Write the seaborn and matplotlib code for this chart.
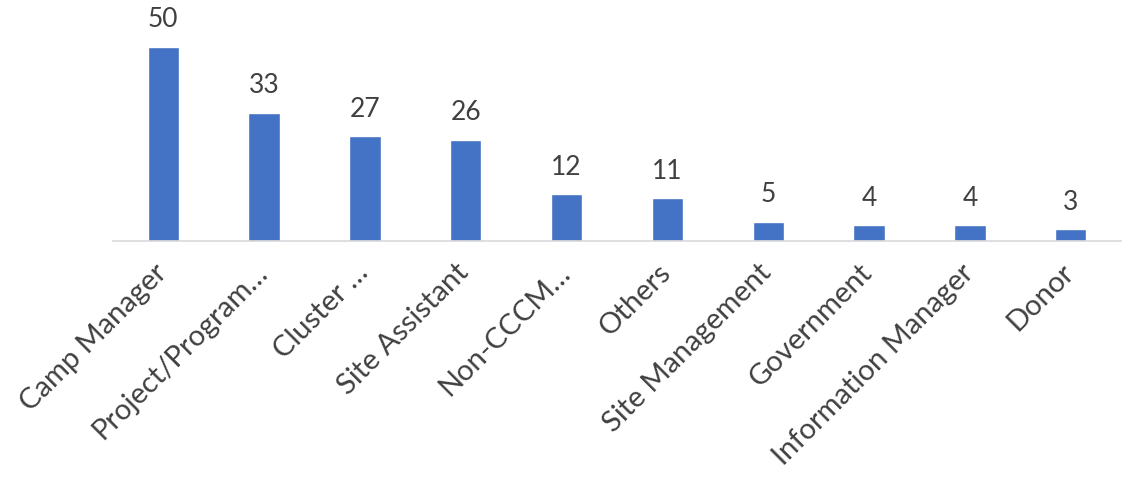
import matplotlib

matplotlib.use("Agg")

import matplotlib.pyplot as plt
import matplotlib.transforms as mtransforms
import pandas as pd
import seaborn as sns

roles = [
    "Camp Manager",
    "Project/Program…",
    "Cluster …",
    "Site Assistant",
    "Non-CCCM…",
    "Others",
    "Site Management",
    "Government",
    "Information Manager",
    "Donor",
]
counts = [50, 33, 27, 26, 12, 11, 5, 4, 4, 3]

sns.set_theme(style="white")
plt.rcParams["font.family"] = ["Lato", "DejaVu Sans"]

df = pd.DataFrame({"role": roles, "count": counts})

fig = plt.figure(figsize=(11.28, 4.82), dpi=100)
ax = fig.add_axes([0.100, 0.5, 0.894, 0.483])
sns.barplot(data=df, x="role", y="count", color="#4472C4", width=0.31,
            saturation=1, ax=ax)

for i, v in enumerate(counts):
    ax.text(i, v + 7, str(v), ha="center", va="center", fontsize=19, color="#404040")

ax.set_ylim(0, 60)
ax.set_xlim(-0.5, len(roles) - 0.5)
ax.set_yticks([])
ax.set_xlabel("")
ax.set_ylabel("")
for s in ["top", "right", "left"]:
    ax.spines[s].set_visible(False)
ax.spines["bottom"].set_color("#D9D9D9")
ax.spines["bottom"].set_linewidth(1.2)
ax.tick_params(axis="x", length=0, pad=6)
ax.set_xticks(range(len(roles)))
ax.set_xticklabels(roles, rotation=45, ha="right", rotation_mode="anchor",
                   fontsize=21, color="#404040")

# nudge labels down-left a bit
shift = mtransforms.ScaledTranslation(-10 / 100, -10 / 100, fig.dpi_scale_trans)
for lbl in ax.get_xticklabels():
    lbl.set_transform(lbl.get_transform() + shift)

fig.savefig("out.png", dpi=100)
